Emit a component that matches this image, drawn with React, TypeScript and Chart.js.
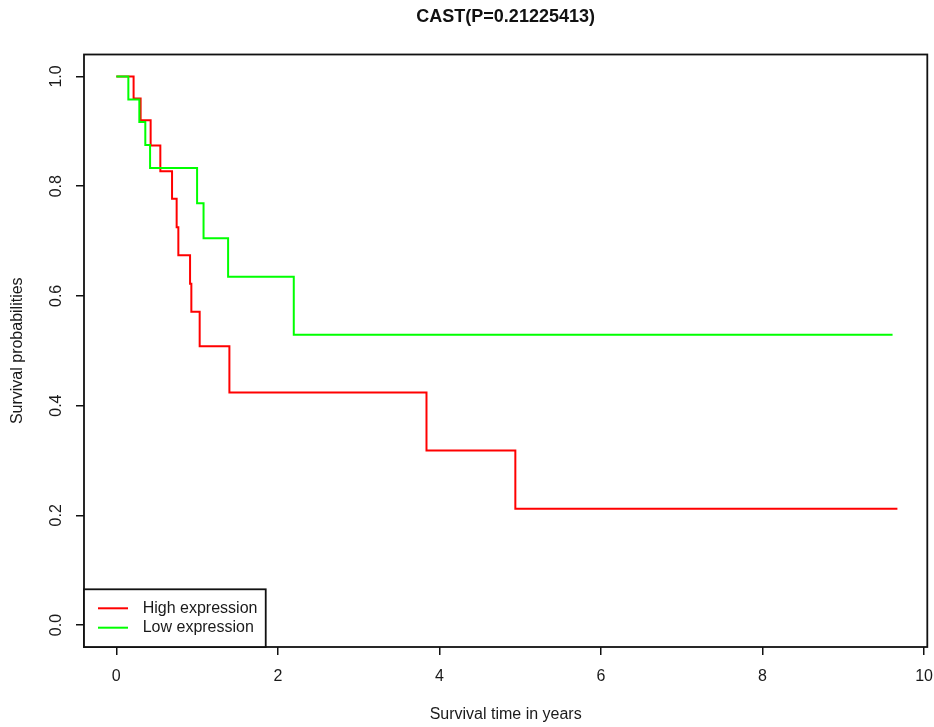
import React, { useEffect, useRef } from "react";
import { Chart, registerables } from "chart.js";

Chart.register(...registerables);

const titleText = "CAST(P=0.21225413)";
const xAxisTitle = "Survival time in years";
const yAxisTitle = "Survival probabilities";
const seriesNames = ["High expression", "Low expression"];
const seriesColors = ["#ff0000", "#00ff00"];

const highTimes = [0, 0.214, 0.301, 0.425, 0.545, 0.69, 0.747, 0.768, 0.913, 0.929, 1.032, 1.4, 3.84, 4.94, 9.67];
const highSurv = [1, 0.96, 0.92, 0.874, 0.827, 0.777, 0.725, 0.674, 0.622, 0.571, 0.508, 0.424, 0.318, 0.212, 0.212];

const lowTimes = [0, 0.149, 0.285, 0.359, 0.418, 1.0, 1.08, 1.384, 2.197, 9.61];
const lowSurv = [1, 0.958, 0.917, 0.875, 0.833, 0.769, 0.705, 0.635, 0.529, 0.529];

const xTicks = [0, 2, 4, 6, 8, 10];
const yTicks = [0, 0.2, 0.4, 0.6, 0.8, 1.0];

const FONT = "'Liberation Sans', Arial, Helvetica, sans-serif";

const boxPlugin = {
  id: "rBox",
  afterDraw(chart: any) {
    const { ctx, chartArea } = chart;
    ctx.save();
    ctx.strokeStyle = "#111";
    ctx.lineWidth = 1.8;
    ctx.strokeRect(chartArea.left, chartArea.top, chartArea.right - chartArea.left, chartArea.bottom - chartArea.top);
    ctx.restore();
  },
};

const legendPlugin = {
  id: "rLegend",
  afterDraw(chart: any) {
    const { ctx, chartArea } = chart;
    ctx.save();
    ctx.font = `16px ${FONT}`;
    let maxW = 0;
    seriesNames.forEach((n) => {
      maxW = Math.max(maxW, ctx.measureText(n).width);
    });
    const left = chartArea.left;
    const bottom = chartArea.bottom;
    const width = 58.7 + maxW + 8.3;
    const height = 57.7;
    const top = bottom - height;
    ctx.fillStyle = "#fff";
    ctx.fillRect(left, top, width, height);
    ctx.strokeStyle = "#111";
    ctx.lineWidth = 1.8;
    ctx.strokeRect(left, top, width, height);
    const rowOffsets = [38.7, 19.3];
    seriesNames.forEach((n, i) => {
      const y = bottom - rowOffsets[i];
      ctx.strokeStyle = seriesColors[i];
      ctx.lineWidth = 2;
      ctx.beginPath();
      ctx.moveTo(left + 14, y);
      ctx.lineTo(left + 44, y);
      ctx.stroke();
      ctx.fillStyle = "#1a1a1a";
      ctx.textBaseline = "middle";
      ctx.textAlign = "left";
      ctx.fillText(n, left + 58.7, y);
    });
    ctx.restore();
  },
};

export default function App() {
  const canvasRef = useRef<HTMLCanvasElement | null>(null);

  useEffect(() => {
    if (!canvasRef.current) return;
    const high = highTimes.map((t, i) => ({ x: t, y: highSurv[i] }));
    const low = lowTimes.map((t, i) => ({ x: t, y: lowSurv[i] }));
    const chart = new Chart(canvasRef.current, {
      type: "line",
      data: {
        datasets: [
          {
            label: seriesNames[0],
            data: high,
            borderColor: seriesColors[0],
            borderWidth: 2,
            stepped: "before",
            pointRadius: 0,
            fill: false,
            order: 1,
          },
          {
            label: seriesNames[1],
            data: low,
            borderColor: seriesColors[1],
            borderWidth: 2,
            stepped: "before",
            pointRadius: 0,
            fill: false,
            order: 0,
          },
        ],
      },
      options: {
        responsive: false,
        animation: false,
        layout: { padding: { left: 0, right: 6.7, top: 0, bottom: 0 } },
        plugins: {
          legend: { display: false },
          tooltip: { enabled: false },
          title: {
            display: true,
            text: titleText,
            fullSize: false,
            color: "#111",
            font: { family: FONT, size: 18, weight: "bold" },
            padding: { top: 6, bottom: 26.9 },
          },
        },
        scales: {
          x: {
            type: "linear",
            min: -0.4,
            max: 10.04,
            afterBuildTicks: (scale: any) => {
              scale.ticks = xTicks.map((v) => ({ value: v }));
            },
            afterFit: (scale: any) => {
              scale.height = 80;
              scale.paddingLeft = 0;
              scale.paddingRight = 0;
            },
            border: { display: false },
            grid: { drawOnChartArea: false, drawTicks: true, tickLength: 8, color: "#111", lineWidth: 1.5 },
            ticks: {
              color: "#1a1a1a",
              font: { family: FONT, size: 16 },
              padding: 12,
              maxRotation: 0,
              autoSkip: false,
              callback: (v: any) => String(v),
            },
            title: {
              display: true,
              text: xAxisTitle,
              color: "#1a1a1a",
              font: { family: FONT, size: 16 },
              padding: { top: 3, bottom: 3 },
            },
          },
          y: {
            type: "linear",
            min: -0.04,
            max: 1.04,
            afterBuildTicks: (scale: any) => {
              scale.ticks = yTicks.map((v) => ({ value: v }));
            },
            afterFit: (scale: any) => {
              scale.width = 84;
              scale.paddingTop = 0;
              scale.paddingBottom = 0;
            },
            border: { display: false },
            grid: { drawOnChartArea: false, drawTicks: true, tickLength: 8, color: "#111", lineWidth: 1.5 },
            ticks: {
              color: "#1a1a1a",
              font: { family: FONT, size: 16 },
              padding: 8,
              minRotation: 90,
              maxRotation: 90,
              crossAlign: "center",
              autoSkip: false,
              callback: (v: any) => Number(v).toFixed(1),
            },
            title: {
              display: true,
              text: yAxisTitle,
              color: "#1a1a1a",
              font: { family: FONT, size: 16 },
              padding: { top: 8, bottom: 8 },
            },
          },
        },
      },
      plugins: [boxPlugin, legendPlugin],
    } as any);
    return () => chart.destroy();
  }, []);

  return (
    <div style={{ position: "absolute", left: 0, top: 0, width: 934, height: 727, background: "#fff" }}>
      <canvas ref={canvasRef} width={934} height={727} style={{ display: "block" }} />
    </div>
  );
}
